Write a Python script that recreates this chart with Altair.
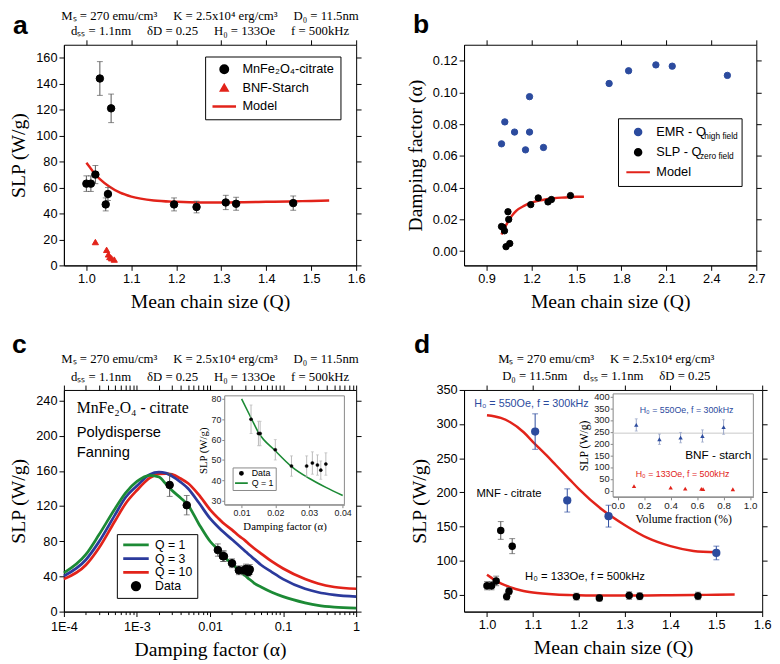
import altair as alt
import pandas as pd

# ---------------- data ----------------
# (a)/(d) MnFe2O4-citrate : SLP vs mean chain size
q_cit = [1.000, 1.010, 1.020, 1.030, 1.043, 1.048, 1.055, 1.195, 1.245, 1.310, 1.333, 1.460]
slp_cit = [63, 63, 70, 144, 47, 55, 121, 47, 45, 48.5, 47.5, 48]
slp_cit_err = [6, 6, 7, 13, 5, 5, 11, 5, 4.5, 5.5, 5, 5.5]
# (a) BNF-Starch
q_bnf = [1.020, 1.045, 1.049, 1.052, 1.056, 1.062]
slp_bnf = [18, 12, 8.5, 6.5, 5.5, 4.5]
# (a)/(d) model, H0 = 133 Oe, f = 500 kHz
q_model = [1.00, 1.01, 1.02, 1.03, 1.05, 1.075, 1.10, 1.15, 1.20, 1.25, 1.30, 1.35, 1.40, 1.45, 1.50, 1.54]
slp_model = [79, 74.5, 70, 66.5, 61, 56, 53, 50, 49, 48.5, 48.5, 48.7, 49, 49.3, 49.7, 50]

# (b) damping factor vs chain size
q_emr = [1.000, 1.022, 1.087, 1.160, 1.187, 1.187, 1.280, 1.718, 1.848, 2.030, 2.139, 2.507]
alpha_emr = [0.0676, 0.0814, 0.0750, 0.0638, 0.0750, 0.0973, 0.0653, 0.1056, 0.1136, 0.1173, 0.1165, 0.1107]
alpha_cit = [0.0155, 0.0150, 0.0128, 0.0028, 0.0248, 0.0200, 0.0048, 0.0293, 0.0335, 0.0310, 0.0325, 0.0350]
q_bmodel = [1.00, 1.02, 1.04, 1.06, 1.08, 1.10, 1.15, 1.20, 1.25, 1.30, 1.35, 1.40, 1.45, 1.50, 1.55]
alpha_bmodel = [0.0105, 0.0145, 0.018, 0.021, 0.0235, 0.0255, 0.0285, 0.0305, 0.0318, 0.0327, 0.0333, 0.0337, 0.034, 0.0342, 0.0343]

# (c) SLP vs damping factor, polydisperse Fanning model
alpha_grid = [1e-4, 2e-4, 3e-4, 5e-4, 7e-4, 1e-3, 1.5e-3, 2e-3, 2.5e-3, 3e-3, 4e-3, 5e-3, 7e-3,
              0.01, 0.013, 0.015, 0.02, 0.025, 0.03, 0.035, 0.04, 0.05, 0.07, 0.1, 0.2, 0.3, 0.5, 1.0]
slp_q1 = [44, 65, 87, 117, 135, 148, 155, 153, 145, 138, 129, 121, 100, 80, 70, 63.5, 54.5, 46.5,
          41, 36.5, 32.5, 28, 22, 17, 10, 7, 5, 4]
slp_q3 = [40.5, 59, 79, 110, 130, 143, 156, 158.5, 157.5, 154, 147, 140, 124, 106, 96, 91, 82, 75,
          69, 64, 60, 53, 45, 37, 26, 22, 19, 17]
slp_q10 = [37, 53, 72, 103, 123, 138, 152, 156.5, 157, 156, 151, 146, 133, 116, 106, 101, 93, 86,
           81, 76, 72, 66, 57, 49, 37, 32, 28, 26]

# (d) H0 = 550 Oe, f = 300 kHz
q_550 = [1.105, 1.175, 1.265, 1.500]
slp_550 = [289, 188, 165, 111]
slp_550_err = [26, 17, 16, 10]
q_dmodel = [1.00, 1.03, 1.05, 1.08, 1.10, 1.13, 1.15, 1.18, 1.20, 1.25, 1.30, 1.35, 1.40, 1.45, 1.50]
slp_dmodel = [313, 309, 303, 288, 274, 254, 240, 219, 205, 175, 152, 133, 121, 114, 112]
# (d) inset : BNF-starch vs volume fraction
vf_550 = [0.14, 0.315, 0.475, 0.64, 0.80]
slp_vf550 = [279, 218, 225, 232, 270]
slp_vf550_err = [26, 22, 22, 26, 31]
vf_133 = [0.123, 0.40, 0.51, 0.632, 0.645, 0.87]
slp_vf133 = [19, 12.5, 8.5, 7, 6, 5.5]
slp_vf_mean = [244]

# tick positions
ticks_q = [1.0, 1.1, 1.2, 1.3, 1.4, 1.5, 1.6]
ticks_a_y = [0, 20, 40, 60, 80, 100, 120, 140, 160]
ticks_b_x = [0.9, 1.2, 1.5, 1.8, 2.1, 2.4, 2.7]
ticks_b_y = [0, 0.02, 0.04, 0.06, 0.08, 0.10, 0.12]
ticks_c_x = [1e-4, 1e-3, 1e-2, 1e-1, 1]
ticks_c_minor = [m * d for d in [1e-4, 1e-3, 1e-2, 1e-1] for m in range(2, 10)]
ticks_c_y = [0, 40, 80, 120, 160, 200, 240]
ticks_d_y = [50, 100, 150, 200, 250, 300, 350]

# ---------------- style ----------------
SANS = "Liberation Sans"
SERIF = "Liberation Serif"
RED = "#e2231a"
BLUE_PT = "#2c4b9e"
GREEN = "#1c8a35"
BLUE_LN = "#2b3a9c"
ERR = "#555555"
EM = "\u2003 "
NBSP = "\u00a0"
ZW = "\u200b"

W1, H1 = 298, 225
W2, H2 = 298, 226
W3 = 304

T1 = "M\u209b = 270 emu/cm\u00b3" + EM + "K = 2.5x10\u2074 erg/cm\u00b3" + EM + "D\u2080 = 11.5nm"
T2 = "d\u209b\u209b = 1.1nm" + EM + "\u03b4D = 0.25" + EM + "H\u2080 = 133Oe" + EM + "f = 500kHz"
D1 = "M\u209b = 270 emu/cm\u00b3" + EM + "K = 2.5x10\u2074 erg/cm\u00b3"
D2 = "D\u2080 = 11.5nm" + EM + "d\u209b\u209b = 1.1nm" + EM + "\u03b4D = 0.25"


def txt(s, x, y, size, font=SERIF, weight="normal", align="left", color="black"):
    return alt.Chart(pd.DataFrame({"t": [s]})).mark_text(
        align=align, baseline="alphabetic", font=font, fontSize=size,
        fontWeight=weight, color=color).encode(x=alt.value(x), y=alt.value(y), text="t:N")


def dtxt(s, x, y, X, Y, size, font=SANS, align="left", color="black"):
    df = pd.DataFrame({"x": [x], "y": [y], "t": [s]})
    return alt.Chart(df).mark_text(align=align, baseline="alphabetic", font=font,
                                   fontSize=size, color=color).encode(
        x=X("x:Q"), y=Y("y:Q"), text="t:N")


def legend_enc(field, dom, shapes, colors, sizes, leg):
    return dict(
        shape=alt.Shape(field, scale=alt.Scale(domain=dom, range=shapes), legend=leg),
        fill=alt.Fill(field, scale=alt.Scale(domain=dom, range=colors), legend=leg),
        stroke=alt.Stroke(field, scale=alt.Scale(domain=dom, range=colors), legend=leg),
        size=alt.Size(field, scale=alt.Scale(type="ordinal", domain=dom, range=sizes), legend=leg),
    )


def errbars(df, X, Y, xf, color, cap, width=1.0):
    return [
        alt.Chart(df).mark_rule(color=color, strokeWidth=width).encode(x=X(xf), y=Y("lo:Q"), y2="hi:Q"),
        alt.Chart(df).mark_tick(orient="horizontal", size=cap, thickness=width, color=color).encode(x=X(xf), y=Y("lo:Q")),
        alt.Chart(df).mark_tick(orient="horizontal", size=cap, thickness=width, color=color).encode(x=X(xf), y=Y("hi:Q")),
    ]


def with_err(xs, ys, es, xname):
    df = pd.DataFrame({xname: xs, "v": ys, "e": es})
    df["lo"] = df["v"] - df["e"]
    df["hi"] = df["v"] + df["e"]
    return df


def tick_axis(orient, values, size=5):
    return alt.Axis(orient=orient, values=values, labels=False, title=None, domain=False,
                    ticks=True, tickSize=size, tickColor="black", tickWidth=1)


def mirror(df, xf, yf, sx, sy, xvals, yvals):
    # top / right tick marks of the frame, sharing the panel scales
    return alt.Chart(df).mark_point(opacity=0).encode(
        x=alt.X(xf, scale=sx, axis=tick_axis("top", xvals)),
        y=alt.Y(yf, scale=sy, axis=tick_axis("right", yvals)))


# ---------------- panel a ----------------
sxA = alt.Scale(domain=[0.95, 1.6], nice=False, zero=False)
syA = alt.Scale(domain=[0, 170], nice=False, zero=False)
axA_x = alt.Axis(title="Mean chain size (Q)", values=ticks_q, format=".1f")
axA_y = alt.Axis(title="SLP (W/g)", values=ticks_a_y)
XA = lambda f: alt.X(f, scale=sxA, axis=axA_x)
YA = lambda f: alt.Y(f, scale=syA, axis=axA_y)

cit_a = with_err(q_cit, slp_cit, slp_cit_err, "q")
LA = ["MnFe\u2082O\u2084-citrate", "BNF-Starch", "Model"]
pts_a = pd.concat([pd.DataFrame({"q": q_cit, "v": slp_cit, "s": LA[0]}),
                   pd.DataFrame({"q": q_bnf, "v": slp_bnf, "s": LA[1]})])
leg_a = alt.Legend(title=None, orient="none", legendX=144, legendY=12, padding=6, rowPadding=5,
                   clipHeight=14, labelFont=SANS, labelFontSize=13, labelOffset=5, strokeColor="black",
                   fillColor="white", symbolStrokeWidth=2.5)
main_a = alt.layer(
    alt.Chart(pd.DataFrame({"q": q_model, "v": slp_model})).mark_line(
        color=RED, strokeWidth=2.5, interpolate="monotone").encode(x=XA("q:Q"), y=YA("v:Q")),
    *errbars(cit_a, XA, YA, "q:Q", ERR, 6),
    alt.Chart(pts_a).mark_point(filled=True, opacity=1, strokeWidth=1).encode(
        x=XA("q:Q"), y=YA("v:Q"),
        **legend_enc("s:N", LA, ["circle", "triangle-up", "stroke"], ["black", RED, RED], [58, 40, 576], leg_a)),
    txt("a", -52, -11, 27, SANS, "bold"),
    txt(T1, W1 / 2, -25, 13, SERIF, align="center"),
    txt(T2, W1 / 2, -10, 13, SERIF, align="center"),
)
pa = alt.layer(main_a, mirror(cit_a, "q:Q", "v:Q", sxA, syA, ticks_q, ticks_a_y)).resolve_axis(
    x="independent", y="independent").properties(width=W1, height=H1)

# ---------------- panel b ----------------
sxB = alt.Scale(domain=[0.75, 2.7], nice=False, zero=False)
syB = alt.Scale(domain=[-0.009, 0.13], nice=False, zero=False)
axB_x = alt.Axis(title="Mean chain size (Q)", values=ticks_b_x, format=".1f")
axB_y = alt.Axis(title="Damping factor (\u03b1)", values=ticks_b_y, format=".2f")
XB = lambda f: alt.X(f, scale=sxB, axis=axB_x)
YB = lambda f: alt.Y(f, scale=syB, axis=axB_y)
LB = ["EMR - Q" + NBSP * 8 + ZW, "SLP - Q" + NBSP * 8 + ZW, "Model"]
pts_b = pd.concat([pd.DataFrame({"q": q_emr, "v": alpha_emr, "s": LB[0]}),
                   pd.DataFrame({"q": q_cit, "v": alpha_cit, "s": LB[1]})])
leg_b = alt.Legend(title=None, orient="none", legendX=157, legendY=75, padding=7, rowPadding=6.5,
                   clipHeight=14, labelFont=SANS, labelFontSize=13, labelOffset=5, strokeColor="black",
                   symbolStrokeWidth=2.2)
main_b = alt.layer(
    alt.Chart(pd.DataFrame({"q": q_bmodel, "v": alpha_bmodel})).mark_line(
        color=RED, strokeWidth=2.5, interpolate="monotone").encode(x=XB("q:Q"), y=YB("v:Q")),
    alt.Chart(pts_b).mark_point(filled=True, opacity=1, strokeWidth=1).encode(
        x=XB("q:Q"), y=YB("v:Q"),
        **legend_enc("s:N", LB, ["circle", "circle", "stroke"], [BLUE_PT, "black", RED], [42, 42, 576], leg_b)),
    txt("high field", 245, 96, 8.5, SANS),
    txt("zero field", 240.5, 116.5, 8.5, SANS),
    txt("b", -52, -12, 27, SANS, "bold"),
)
pb = alt.layer(main_b, mirror(pts_b, "q:Q", "v:Q", sxB, syB, ticks_b_x, ticks_b_y)).resolve_axis(
    x="independent", y="independent").properties(width=W1, height=H1)

# ---------------- panel c ----------------
sxC = alt.Scale(type="log", domain=[1e-4, 1], nice=False)
syC = alt.Scale(domain=[0, 252], nice=False, zero=False)
axC_x = alt.Axis(title="Damping factor (\u03b1)", values=ticks_c_x, labelPadding=4,
                 labelExpr="datum.value < 0.0005 ? '1E-4' : datum.value < 0.005 ? '1E-3' : "
                           "datum.value < 0.05 ? '0.01' : datum.value < 0.5 ? '0.1' : '1'")
axC_y = alt.Axis(title="SLP (W/g)", values=ticks_c_y)
XC = lambda f: alt.X(f, scale=sxC, axis=axC_x)
YC = lambda f: alt.Y(f, scale=syC, axis=axC_y)
curves = pd.DataFrame({"a": alpha_grid, "q1": slp_q1, "q3": slp_q3, "q10": slp_q10})
cit_c = with_err(alpha_cit, slp_cit, slp_cit_err, "a")
LC = ["Q = 1", "Q = 3", "Q = 10", "Data"]
leg_c = alt.Legend(title=None, orient="none", legendX=54, legendY=147, padding=5, rowPadding=1,
                   clipHeight=12, labelFont=SANS, labelFontSize=12.5, labelOffset=5, strokeColor="black",
                   fillColor="white", symbolStrokeWidth=2.8)
main_c = alt.layer(
    alt.Chart(curves).mark_line(color=RED, strokeWidth=2.8, interpolate="monotone").encode(x=XC("a:Q"), y=YC("q10:Q")),
    alt.Chart(curves).mark_line(color=BLUE_LN, strokeWidth=2.8, interpolate="monotone").encode(x=XC("a:Q"), y=YC("q3:Q")),
    alt.Chart(curves).mark_line(color=GREEN, strokeWidth=2.8, interpolate="monotone").encode(x=XC("a:Q"), y=YC("q1:Q")),
    *errbars(cit_c, XC, YC, "a:Q", ERR, 6),
    alt.Chart(cit_c.assign(s="Data")).mark_point(filled=True, opacity=1, strokeWidth=1).encode(
        x=XC("a:Q"), y=YC("v:Q"),
        **legend_enc("s:N", LC, ["stroke", "stroke", "stroke", "circle"],
                     [GREEN, BLUE_LN, RED, "black"], [676, 676, 676, 60], leg_c)),
    dtxt("MnFe\u2082O\u2084 - citrate", 1.5e-4, 226, XC, YC, 16, SERIF),
    dtxt("Polydisperse", 1.5e-4, 198, XC, YC, 15, SANS),
    dtxt("Fanning", 1.5e-4, 176, XC, YC, 15, SANS),
    txt("c", -53, -38, 27, SANS, "bold"),
    txt(T1, W2 / 2, -28, 13, SERIF, align="center"),
    txt(T2, W2 / 2, -9, 13, SERIF, align="center"),
)
minor_c = alt.Chart(curves).mark_point(opacity=0).encode(
    x=alt.X("a:Q", scale=sxC, axis=tick_axis("bottom", ticks_c_minor, 3)),
    y=alt.Y("q1:Q", scale=syC, axis=None))
frame_c = alt.layer(
    main_c,
    mirror(curves, "a:Q", "q1:Q", sxC, syC, ticks_c_x + ticks_c_minor, ticks_c_y),
    minor_c,
).resolve_axis(x="independent", y="independent")

# inset of c
CI_X = [0.005, 0.0405]
CI_Y = [28, 81.5]
sxCi = alt.Scale(domain=CI_X, range=[164, 286], nice=False, zero=False)
syCi = alt.Scale(domain=CI_Y, range=[117, 6], nice=False, zero=False)
inset_axis = dict(labelFontSize=9, titleFontSize=11, tickSize=3, labelPadding=1, titlePadding=3,
                  domainColor="#888888", tickColor="#888888", labelColor="#222222")
axCi_x = alt.Axis(title="Damping factor (\u03b1)", values=[0.01, 0.02, 0.03, 0.04], format=".2f",
                  orient="bottom", offset=-(H2 - 117), **inset_axis)
axCi_y = alt.Axis(title="SLP (W/g)", values=[30, 40, 50, 60, 70, 80], orient="left", offset=-164, **inset_axis)
XCi = lambda f: alt.X(f, scale=sxCi, axis=axCi_x)
YCi = lambda f: alt.Y(f, scale=syCi, axis=axCi_y)
cit_ci = cit_c[cit_c["a"] >= 0.01]
curve_ci = curves[(curves["a"] >= 0.01) & (curves["a"] <= 0.04)]
LCi = ["Data", "Q = 1"]
leg_ci = alt.Legend(title=None, orient="none", legendX=172, legendY=79, padding=1.5, rowPadding=0,
                    clipHeight=9, labelFont=SANS, labelFontSize=9, labelOffset=3, strokeColor="#888888",
                    fillColor="white", symbolStrokeWidth=1.8)
inset_c = alt.layer(
    alt.Chart(pd.DataFrame({"x0": [CI_X[0]], "x1": [CI_X[1]], "y0": [CI_Y[0]], "y1": [CI_Y[1]]})).mark_rect(
        fill="white", stroke="#888888", strokeWidth=1).encode(x=XCi("x0:Q"), x2="x1:Q", y=YCi("y0:Q"), y2="y1:Q"),
    alt.Chart(curve_ci).mark_line(color=GREEN, strokeWidth=1.6, interpolate="monotone").encode(x=XCi("a:Q"), y=YCi("q1:Q")),
    *errbars(cit_ci, XCi, YCi, "a:Q", "#bbbbbb", 3),
    alt.Chart(cit_ci.assign(s="Data")).mark_point(filled=True, opacity=1, strokeWidth=0.5).encode(
        x=XCi("a:Q"), y=YCi("v:Q"),
        **legend_enc("s:N", LCi, ["circle", "stroke"], ["black", GREEN], [10, 169], leg_ci)),
)
pc = alt.layer(frame_c, inset_c).resolve_scale(
    x="independent", y="independent", fill="independent", stroke="independent",
    shape="independent", size="independent").properties(width=W2, height=H2)

# ---------------- panel d ----------------
sxD = alt.Scale(domain=[0.95, 1.6], nice=False, zero=False)
syD = alt.Scale(domain=[25, 350], nice=False, zero=False)
axD_x = alt.Axis(title="Mean chain size (Q)", values=ticks_q, format=".1f")
axD_y = alt.Axis(title="SLP (W/g)", values=ticks_d_y)
XD = lambda f: alt.X(f, scale=sxD, axis=axD_x)
YD = lambda f: alt.Y(f, scale=syD, axis=axD_y)
cit_d = with_err(q_cit, slp_cit, slp_cit_err, "q")
b550 = with_err(q_550, slp_550, slp_550_err, "q")
main_d = alt.layer(
    alt.Chart(pd.DataFrame({"q": q_model, "v": slp_model})).mark_line(
        color=RED, strokeWidth=2.5, interpolate="monotone").encode(x=XD("q:Q"), y=YD("v:Q")),
    alt.Chart(pd.DataFrame({"q": q_dmodel, "v": slp_dmodel})).mark_line(
        color=RED, strokeWidth=2.5, interpolate="monotone").encode(x=XD("q:Q"), y=YD("v:Q")),
    *errbars(cit_d, XD, YD, "q:Q", ERR, 6),
    *errbars(b550, XD, YD, "q:Q", BLUE_PT, 6),
    alt.Chart(cit_d).mark_point(filled=True, opacity=1, color="black", size=58).encode(x=XD("q:Q"), y=YD("v:Q")),
    alt.Chart(b550).mark_point(filled=True, opacity=1, color=BLUE_PT, size=70).encode(x=XD("q:Q"), y=YD("v:Q")),
    dtxt("H\u2080 = 550Oe, f = 300kHz", 0.972, 325, XD, YD, 11, SANS, color=BLUE_PT),
    dtxt("MNF - citrate", 0.977, 193, XD, YD, 11.5, SANS),
    dtxt("H\u2080 = 133Oe, f = 500kHz", 1.083, 71, XD, YD, 11.5, SANS),
    txt("d", -51, -38, 27, SANS, "bold"),
    txt(D1, 145, -28, 13, SERIF, align="center"),
    txt(D2, 145, -10, 13, SERIF, align="center"),
)
frame_d = alt.layer(main_d, mirror(cit_d, "q:Q", "v:Q", sxD, syD, ticks_q, ticks_d_y)).resolve_axis(
    x="independent", y="independent")

DI_X = [-0.035, 1.025]
DI_Y = [-27, 411]
sxDi = alt.Scale(domain=DI_X, range=[152, 295], nice=False, zero=False)
syDi = alt.Scale(domain=DI_Y, range=[109, 4], nice=False, zero=False)
axDi_x = alt.Axis(title="Volume fraction (%)", values=[0, 0.2, 0.4, 0.6, 0.8, 1.0], format=".1f",
                  orient="bottom", offset=-(H2 - 109), **dict(inset_axis, titleFontSize=12, labelFontSize=10))
axDi_y = alt.Axis(title="SLP (W/g)", values=list(range(0, 401, 50)), orient="left", offset=-152,
                  **dict(inset_axis, titleFontSize=12, labelFontSize=9.5))
XDi = lambda f: alt.X(f, scale=sxDi, axis=axDi_x)
YDi = lambda f: alt.Y(f, scale=syDi, axis=axDi_y)
vf550 = with_err(vf_550, slp_vf550, slp_vf550_err, "f")
inset_d = alt.layer(
    alt.Chart(pd.DataFrame({"x0": [DI_X[0]], "x1": [DI_X[1]], "y0": [DI_Y[0]], "y1": [DI_Y[1]]})).mark_rect(
        fill="white", stroke="#888888", strokeWidth=1).encode(x=XDi("x0:Q"), x2="x1:Q", y=YDi("y0:Q"), y2="y1:Q"),
    alt.Chart(pd.DataFrame({"x0": [DI_X[0]], "x1": [DI_X[1]], "y": slp_vf_mean})).mark_rule(
        color="#c8c8c8", strokeWidth=1).encode(x=XDi("x0:Q"), x2="x1:Q", y=YDi("y:Q")),
    *errbars(vf550, XDi, YDi, "f:Q", "#9aa6c8", 3),
    alt.Chart(vf550).mark_point(filled=True, opacity=1, shape="triangle-up", color=BLUE_PT, size=20).encode(
        x=XDi("f:Q"), y=YDi("v:Q")),
    alt.Chart(pd.DataFrame({"f": vf_133, "v": slp_vf133})).mark_point(
        filled=True, opacity=1, shape="triangle-up", color=RED, size=20).encode(x=XDi("f:Q"), y=YDi("v:Q")),
    dtxt("H\u2080 = 550Oe, f = 300kHz", 0.52, 330, XDi, YDi, 9, SANS, align="center", color=BLUE_PT),
    dtxt("BNF - starch", 0.51, 136, XDi, YDi, 12, SANS),
    dtxt("H\u2080 = 133Oe, f = 500kHz", 0.49, 57, XDi, YDi, 9, SANS, align="center", color=RED),
)
pd_ = alt.layer(frame_d, inset_d).resolve_scale(x="independent", y="independent").properties(width=W3, height=H2)

chart = alt.concat(pa, pb, pc, pd_, columns=2, spacing={"row": 127, "column": 110}, bounds="flush").resolve_scale(
    x="independent", y="independent", fill="independent", stroke="independent",
    shape="independent", size="independent"
).configure_axis(
    labelFont=SANS, labelFontSize=13, labelColor="black", titleFont=SERIF, titleFontSize=20,
    titleFontWeight="normal", titleColor="black", grid=False, domainColor="black", tickColor="black",
    tickSize=5, labelPadding=2, titlePadding=7, labelFlush=False, labelOverlap=False
).configure_view(stroke="black", strokeWidth=1).properties(
    padding={"left": 0, "top": -5, "right": 0, "bottom": 0})

chart.save("out.html", embed_options={"renderer": "svg", "actions": False})
